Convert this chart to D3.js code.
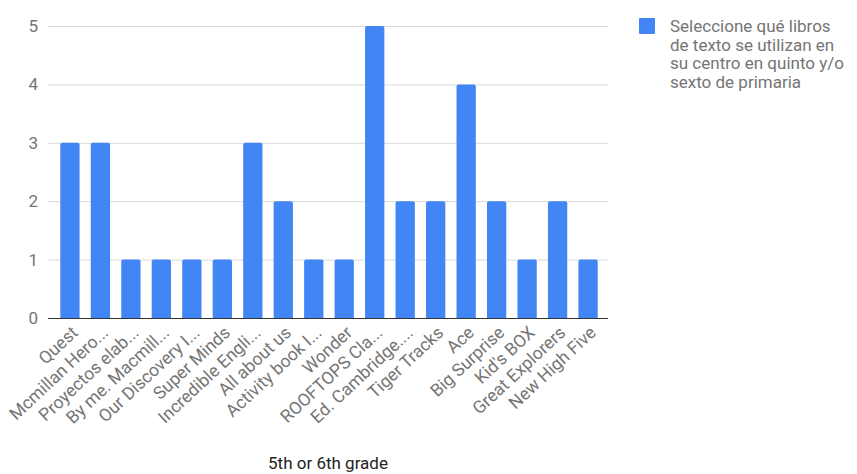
<!DOCTYPE html>
<html>
<head>
<meta charset="utf-8">
<script src="https://cdn.jsdelivr.net/npm/d3@7"></script>
<style>
  body { margin: 0; background: #fff; }
  svg text { font-family: Roboto, "Noto Sans", sans-serif; }
</style>
</head>
<body>
<svg width="857" height="474"></svg>
<script>
// Data
const BOOKS = [
  "Quest", "Mcmillan Hero...", "Proyectos elab...", "By me. Macmill...",
  "Our Discovery I...", "Super Minds", "Incredible Engli...", "All about us",
  "Activity book I...", "Wonder", "ROOFTOPS Cla...", "Ed. Cambridge....",
  "Tiger Tracks", "Ace", "Big Surprise", "Kid's BOX", "Great Explorers",
  "New High Five"
];
const COUNTS = [3, 3, 1, 1, 1, 1, 3, 2, 1, 1, 5, 2, 2, 4, 2, 1, 2, 1];
const Y_TICKS = [0, 1, 2, 3, 4, 5];
const SERIES_NAME = ["Seleccione qué libros", "de texto se utilizan en", "su centro en quinto y/o", "sexto de primaria"];
const X_TITLE = "5th or 6th grade";

const
  BLUE = "#4285f4",
  GRID = "#d9d9d9",
  LABEL = "#757575",
  LEFT = 48, RIGHT = 608, TOP = 26, BOTTOM = 318
;

const svg = d3.select("svg");

const x = d3.scaleBand()
  .domain(BOOKS)
  .range([LEFT + 6.8, RIGHT - 4.8])
  .paddingInner(0.367)
  .paddingOuter(0.18);

const y = d3.scaleLinear().domain([0, 5]).range([BOTTOM, TOP]);

// gridlines
svg.append("g")
  .selectAll("line")
  .data(Y_TICKS.filter(d => d > 0)).enter()
  .append("line")
    .attr("x1", LEFT).attr("x2", RIGHT)
    .attr("y1", d => y(d) + 0.5).attr("y2", d => y(d) + 0.5)
    .attr("stroke", GRID).attr("stroke-width", 1);

// y tick labels
svg.append("g")
  .selectAll("text")
  .data(Y_TICKS).enter()
  .append("text")
    .attr("x", 38)
    .attr("y", d => y(d))
    .attr("dy", "0.35em")
    .attr("text-anchor", "end")
    .attr("fill", LABEL)
    .style("font-size", "17px")
    .text(d => d);

// bars with slightly rounded tops
const r = 2;
svg.append("g")
  .selectAll("path")
  .data(COUNTS).enter()
  .append("path")
    .attr("fill", BLUE)
    .attr("d", (d, i) => {
      const x0 = x(BOOKS[i]), w = x.bandwidth(), y0 = y(d), y1 = y(0);
      return `M${x0},${y1}V${y0 + r}Q${x0},${y0} ${x0 + r},${y0}H${x0 + w - r}Q${x0 + w},${y0} ${x0 + w},${y0 + r}V${y1}Z`;
    });

// baseline
svg.append("line")
  .attr("x1", LEFT).attr("x2", RIGHT)
  .attr("y1", BOTTOM + 0.5).attr("y2", BOTTOM + 0.5)
  .attr("stroke", "#333").attr("stroke-width", 1);

// rotated category labels
svg.append("g")
  .selectAll("text")
  .data(BOOKS).enter()
  .append("text")
    .attr("transform", d => `translate(${x(d) + x.bandwidth() / 2 + 9},${BOTTOM + 16}) rotate(-43)`)
    .attr("text-anchor", "end")
    .attr("fill", LABEL)
    .style("font-size", "17.5px")
    .text(d => d);

// x title
svg.append("text")
  .attr("x", (LEFT + RIGHT) / 2)
  .attr("y", 469)
  .attr("text-anchor", "middle")
  .attr("fill", "#222")
  .style("font-size", "17px")
  .text(X_TITLE);

// legend
const legend = svg.append("g").attr("transform", "translate(639,18)");
legend.append("rect")
  .attr("width", 16).attr("height", 16).attr("rx", 1)
  .attr("fill", BLUE);
legend.append("text")
  .attr("fill", LABEL)
  .style("font-size", "17px")
  .selectAll("tspan")
  .data(SERIES_NAME).enter()
  .append("tspan")
    .attr("x", 31)
    .attr("y", (d, i) => 14 + i * 18.5)
    .text(d => d);
</script>
</body>
</html>
